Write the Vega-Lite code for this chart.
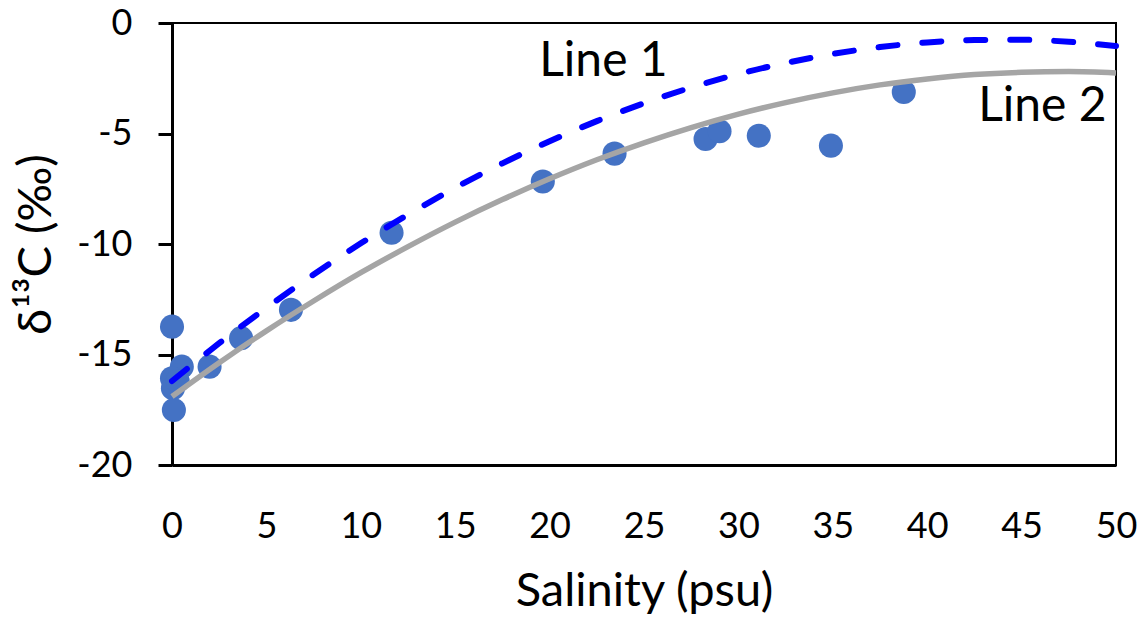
{
  "$schema": "https://vega.github.io/schema/vega-lite/v6.json",
  "width": 944,
  "height": 442,
  "autosize": {"type": "none"},
  "padding": {"left": 172, "top": 23, "right": 31, "bottom": 157},
  "background": "white",
  "config": {
    "view": {"stroke": "black", "strokeWidth": 2},
    "font": "Lato",
    "axis": {"grid": false, "domainColor": "black", "domainWidth": 3, "labelColor": "black", "titleColor": "black", "labelFont": "Lato", "titleFont": "Lato", "titleFontWeight": "normal", "labelFontSize": 36, "titleFontSize": 47}
  },
  "datasets": {
    "points": [
      {"salinity": 0.0, "d13c": -13.74},
      {"salinity": 0.52, "d13c": -15.55},
      {"salinity": 0.0, "d13c": -16.08},
      {"salinity": 0.05, "d13c": -16.53},
      {"salinity": 0.3, "d13c": -16.2},
      {"salinity": 0.1, "d13c": -17.51},
      {"salinity": 1.99, "d13c": -15.55},
      {"salinity": 3.66, "d13c": -14.26},
      {"salinity": 6.3, "d13c": -12.98},
      {"salinity": 11.63, "d13c": -9.49},
      {"salinity": 19.64, "d13c": -7.17},
      {"salinity": 23.44, "d13c": -5.91},
      {"salinity": 28.26, "d13c": -5.25},
      {"salinity": 29.0, "d13c": -4.9},
      {"salinity": 31.08, "d13c": -5.1},
      {"salinity": 34.9, "d13c": -5.55},
      {"salinity": 38.76, "d13c": -3.12}
    ],
    "line1": [
      {"salinity": 0, "d13c": -16.2},
      {"salinity": 2.5, "d13c": -14.49},
      {"salinity": 5, "d13c": -12.89},
      {"salinity": 7.5, "d13c": -11.38},
      {"salinity": 10, "d13c": -9.97},
      {"salinity": 12.5, "d13c": -8.67},
      {"salinity": 15, "d13c": -7.46},
      {"salinity": 17.5, "d13c": -6.35},
      {"salinity": 20, "d13c": -5.35},
      {"salinity": 22.5, "d13c": -4.44},
      {"salinity": 25, "d13c": -3.63},
      {"salinity": 27.5, "d13c": -2.92},
      {"salinity": 30, "d13c": -2.31},
      {"salinity": 32.5, "d13c": -1.81},
      {"salinity": 35, "d13c": -1.4},
      {"salinity": 37.5, "d13c": -1.09},
      {"salinity": 40, "d13c": -0.88},
      {"salinity": 42.5, "d13c": -0.77},
      {"salinity": 45, "d13c": -0.76},
      {"salinity": 47.5, "d13c": -0.85},
      {"salinity": 50, "d13c": -1.04}
    ],
    "line2": [
      {"salinity": 0, "d13c": -16.9},
      {"salinity": 2.5, "d13c": -15.37},
      {"salinity": 5, "d13c": -13.93},
      {"salinity": 7.5, "d13c": -12.58},
      {"salinity": 10, "d13c": -11.3},
      {"salinity": 12.5, "d13c": -10.12},
      {"salinity": 15, "d13c": -9.01},
      {"salinity": 17.5, "d13c": -7.99},
      {"salinity": 20, "d13c": -7.05},
      {"salinity": 22.5, "d13c": -6.19},
      {"salinity": 25, "d13c": -5.42},
      {"salinity": 27.5, "d13c": -4.73},
      {"salinity": 30, "d13c": -4.12},
      {"salinity": 32.5, "d13c": -3.6},
      {"salinity": 35, "d13c": -3.16},
      {"salinity": 37.5, "d13c": -2.8},
      {"salinity": 40, "d13c": -2.53},
      {"salinity": 42.5, "d13c": -2.33},
      {"salinity": 45, "d13c": -2.23},
      {"salinity": 47.5, "d13c": -2.2},
      {"salinity": 50, "d13c": -2.26}
    ],
    "labels": [
      {"salinity": 22.85, "d13c": -2.41, "text": "Line 1"},
      {"salinity": 46.1, "d13c": -4.45, "text": "Line 2"}
    ]
  },
  "encoding": {
    "x": {"field": "salinity", "type": "quantitative", "scale": {"domain": [0, 50], "nice": false, "zero": false},
      "axis": {"title": "Salinity (psu)", "values": [0, 5, 10, 15, 20, 25, 30, 35, 40, 45, 50], "ticks": false, "tickSize": 0, "labelPadding": 44, "titlePadding": 24, "labelFlush": false}},
    "y": {"field": "d13c", "type": "quantitative", "scale": {"domain": [-20, 0], "nice": false, "zero": false},
      "axis": {"title": "δ¹³C (‰)", "values": [-20, -15, -10, -5, 0], "labelExpr": "datum.value < 0 ? '-' + abs(datum.value) : '' + datum.value", "tickSize": 14, "tickWidth": 3, "tickColor": "black", "labelPadding": 26, "titlePadding": 16, "labelFlush": false}}
  },
  "layer": [
    {"data": {"name": "points"}, "mark": {"type": "circle", "size": 580, "color": "#4472C4", "opacity": 1}},
    {"data": {"name": "line2"}, "mark": {"type": "line", "color": "#A5A5A5", "strokeWidth": 5.5, "interpolate": "monotone"}},
    {"data": {"name": "line1"}, "mark": {"type": "line", "color": "#0000FF", "strokeWidth": 6, "strokeDash": [19, 25], "strokeCap": "round", "interpolate": "monotone"}},
    {"data": {"name": "labels"}, "mark": {"type": "text", "fontSize": 48, "font": "Lato", "color": "black", "align": "center", "baseline": "alphabetic"}, "encoding": {"text": {"field": "text"}}}
  ]
}
